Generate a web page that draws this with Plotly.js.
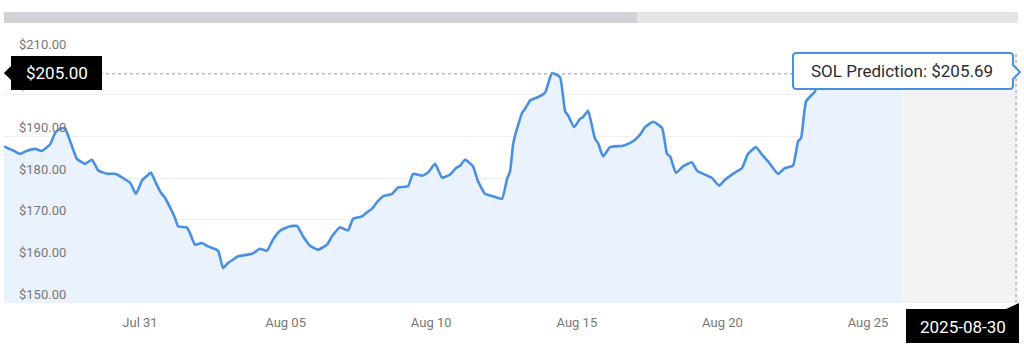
<!DOCTYPE html>
<html>
<head>
<meta charset="utf-8">
<script src="https://cdn.plot.ly/plotly-3.0.1.min.js"></script>
<style>
  html, body { margin: 0; padding: 0; background: #ffffff; }
  #chart { width: 1024px; height: 353px; }
</style>
</head>
<body>
<div id="chart"></div>
<script>
// ---- data ----
const dates = [
  "2025-07-26 08:00","2025-07-26 17:00","2025-07-26 21:00","2025-07-27 03:00","2025-07-27 09:30",
  "2025-07-27 15:00","2025-07-27 22:00","2025-07-28 02:00","2025-07-28 06:00","2025-07-28 10:00",
  "2025-07-28 15:00","2025-07-28 20:00","2025-07-29 02:40","2025-07-29 08:30","2025-07-29 13:30",
  "2025-07-29 21:00","2025-07-30 03:30","2025-07-30 10:00","2025-07-30 16:00","2025-07-30 20:40",
  "2025-07-31 01:40","2025-07-31 06:00","2025-07-31 09:00","2025-07-31 12:30","2025-07-31 16:30",
  "2025-07-31 20:40","2025-08-01 00:40","2025-08-01 04:50","2025-08-01 07:20","2025-08-01 14:40",
  "2025-08-01 17:10","2025-08-01 21:20","2025-08-02 03:00","2025-08-02 08:00","2025-08-02 16:20",
  "2025-08-02 20:25","2025-08-03 00:30","2025-08-03 04:40","2025-08-03 08:50","2025-08-03 20:20",
  "2025-08-04 02:55","2025-08-04 08:40","2025-08-04 13:35","2025-08-04 19:25","2025-08-05 03:35",
  "2025-08-05 09:25","2025-08-05 14:20","2025-08-05 20:05","2025-08-06 02:40","2025-08-06 10:05",
  "2025-08-06 14:15","2025-08-06 20:50","2025-08-07 03:25","2025-08-07 07:35","2025-08-07 15:00",
  "2025-08-07 19:05","2025-08-07 23:10","2025-08-08 03:20","2025-08-08 08:15","2025-08-08 15:40",
  "2025-08-08 20:40","2025-08-09 04:50","2025-08-09 09:00","2025-08-09 16:25","2025-08-09 21:20",
  "2025-08-10 03:10","2025-08-10 08:55","2025-08-10 15:30","2025-08-10 20:25","2025-08-10 23:45",
  "2025-08-11 03:50","2025-08-11 10:25","2025-08-11 14:35","2025-08-11 20:20","2025-08-12 02:55",
  "2025-08-12 10:20","2025-08-12 14:30","2025-08-12 17:00","2025-08-12 19:25","2025-08-12 21:05",
  "2025-08-13 02:50","2025-08-13 05:20","2025-08-13 09:25","2025-08-13 16:00","2025-08-13 21:50",
  "2025-08-14 03:35","2025-08-14 10:10","2025-08-14 14:20","2025-08-14 16:50","2025-08-14 21:45",
  "2025-08-15 02:40","2025-08-15 05:05","2025-08-15 09:15","2025-08-15 15:00","2025-08-15 17:30",
  "2025-08-15 21:35","2025-08-16 03:25","2025-08-16 14:05","2025-08-16 18:15","2025-08-17 00:00",
  "2025-08-17 04:05","2025-08-17 08:15","2025-08-17 14:50","2025-08-17 22:15","2025-08-18 02:20",
  "2025-08-18 04:50","2025-08-18 09:45","2025-08-18 15:30","2025-08-18 22:55","2025-08-19 03:05",
  "2025-08-19 09:40","2025-08-19 15:25","2025-08-19 21:10","2025-08-20 02:10","2025-08-20 08:45",
  "2025-08-20 16:10","2025-08-20 21:05","2025-08-21 03:40","2025-08-21 08:40","2025-08-21 13:35",
  "2025-08-21 21:50","2025-08-22 03:35","2025-08-22 10:10","2025-08-22 14:20","2025-08-22 16:50",
  "2025-08-22 20:55","2025-08-23 04:20","2025-08-23 06:50","2025-08-23 10:05","2025-08-23 20:00",
  "2025-08-24 08:00","2025-08-24 20:00","2025-08-25 08:00","2025-08-25 20:00","2025-08-26 04:00"
];
const prices = [
  187.6,186.4,185.8,186.55,187.0,
  186.5,188.1,190.8,191.8,192.0,
  188.4,184.6,183.4,184.4,181.8,
  181.0,181.0,180.0,178.8,176.2,
  179.4,180.55,181.3,179.2,176.8,
  175.2,173.0,170.4,168.4,168.1,
  166.8,164.0,164.4,163.6,162.55,
  158.4,159.6,160.4,161.2,161.8,
  163.0,162.55,165.2,167.35,168.4,
  168.5,166.0,163.75,162.8,164.0,
  166.0,168.2,167.4,170.2,170.8,
  171.8,172.6,174.2,175.6,176.2,
  177.7,178.0,181.0,180.55,181.3,
  183.4,180.1,180.8,182.4,182.95,
  184.4,182.8,179.2,176.2,175.6,
  175.0,179.8,181.6,188.0,190.2,
  195.6,196.6,198.6,199.4,200.5,
  205.2,204.2,196.0,195.0,192.2,
  194.2,194.6,196.15,189.4,188.4,
  185.2,187.4,187.75,188.2,189.2,
  190.4,192.2,193.5,192.0,185.8,
  185.2,181.2,182.8,183.75,181.75,
  180.8,180.0,178.15,179.6,181.0,
  182.4,185.8,187.4,185.6,184.0,
  181.0,182.4,182.95,188.8,189.6,
  198.4,200.8,203.6,207.2,206.4,
  207.5,206.0,206.9,205.4,205.69
];
const yTickVals = [150, 160, 170, 180, 190, 200, 210];
const yTickText = yTickVals.map(v => '$' + v.toFixed(2));
const xRange = ["2025-07-26 07:55", "2025-08-30 03:35"];
const xTick0 = "2025-07-31";
const crosshairPrice = 205.00;
const crosshairLabel = "$205.00";
const predictionLabel = "SOL Prediction: $205.69";
const dateLabel = "2025-08-30";

// ---- layout geometry (pixels) ----
const L = 4, R = 1018, T = 53, B = 303;
const W = R - L, H = B - T;
const px = v => (v - L) / W;
const py = v => (B - v) / H;
const path = pts => pts.map((p, i) => (i ? 'L' : 'M') + px(p[0]).toFixed(5) + ',' + py(p[1]).toFixed(5)).join(' ') + ' Z';

const blue = 'rgb(74,144,226)';

const trace = {
  x: dates, y: prices,
  type: 'scatter', mode: 'lines',
  line: { color: blue, width: 2.6, shape: 'spline', smoothing: 0.4 },
  fill: 'tozeroy', fillcolor: 'rgba(234,242,253,1)',
  hoverinfo: 'skip'
};

const tooltipPath = (() => {
  const x0 = 793, x1 = 1013, y0 = 53, y1 = 89, r = 3;
  const pts = [];
  const arc = (cx, cy, a0, a1) => { for (let k = 0; k <= 4; k++) { const a = a0 + (a1 - a0) * k / 4; pts.push([cx + r * Math.cos(a), cy + r * Math.sin(a)]); } };
  arc(x0 + r, y0 + r, Math.PI, 1.5 * Math.PI);
  arc(x1 - r, y0 + r, 1.5 * Math.PI, 2 * Math.PI);
  pts.push([x1, 65]); pts.push([1020, 72]); pts.push([x1, 79]);
  arc(x1 - r, y1 - r, 0, 0.5 * Math.PI);
  arc(x0 + r, y1 - r, 0.5 * Math.PI, Math.PI);
  return path(pts);
})();

const shapes = [
  // top scroll bar
  { type: 'rect', xref: 'paper', yref: 'paper', x0: px(4), x1: px(637), y0: py(23), y1: py(12), fillcolor: '#d1d3d8', line: { width: 0 }, layer: 'above' },
  { type: 'rect', xref: 'paper', yref: 'paper', x0: px(637), x1: px(1018), y0: py(23), y1: py(12), fillcolor: '#e4e5e9', line: { width: 0 }, layer: 'above' },
  // forecast region
  { type: 'rect', xref: 'x', yref: 'paper', x0: dates[dates.length - 1], x1: xRange[1], y0: 0, y1: 1, fillcolor: '#f3f3f3', line: { width: 0 }, layer: 'below' },
  // crosshair lines
  { type: 'line', xref: 'paper', yref: 'y', x0: 0, x1: 1, y0: crosshairPrice, y1: crosshairPrice, line: { color: '#9a9a9a', width: 1, dash: '3px,3px' }, layer: 'above' },
  { type: 'line', xref: 'paper', yref: 'paper', x0: px(1016), x1: px(1016), y0: 0, y1: 1, line: { color: '#9a9a9a', width: 1, dash: '3px,3px' }, layer: 'above' },
  // y crosshair label
  { type: 'path', xref: 'paper', yref: 'paper', path: path([[11, 56], [102, 56], [102, 90], [11, 90], [11, 80], [4, 73], [11, 66]]), fillcolor: '#000000', line: { width: 0 }, layer: 'above' },
  // tooltip
  { type: 'path', xref: 'paper', yref: 'paper', path: tooltipPath, fillcolor: '#ffffff', line: { color: blue, width: 2 }, layer: 'above' },
  // x crosshair label
  { type: 'path', xref: 'paper', yref: 'paper', path: path([[906, 309], [1006, 309], [1019, 303], [1019, 343], [906, 343]]), fillcolor: '#000000', line: { width: 0 }, layer: 'above' }
];

const annotations = [
  { xref: 'paper', yref: 'paper', x: px(56.5), y: py(73), xanchor: 'center', yanchor: 'middle', showarrow: false,
    text: crosshairLabel, font: { family: 'Roboto, sans-serif', size: 17, color: '#ffffff' } },
  { xref: 'paper', yref: 'paper', x: px(902), y: py(71.5), xanchor: 'center', yanchor: 'middle', showarrow: false,
    text: predictionLabel, font: { family: 'Roboto, sans-serif', size: 17, color: '#2b2b2b' } },
  { xref: 'paper', yref: 'paper', x: px(962.5), y: py(326.5), xanchor: 'center', yanchor: 'middle', showarrow: false,
    text: dateLabel, font: { family: 'Roboto, sans-serif', size: 17, color: '#ffffff' } }
];

const layout = {
  width: 1024, height: 353,
  margin: { l: L, r: 1024 - R, t: T, b: 353 - B, pad: 0 },
  paper_bgcolor: '#ffffff', plot_bgcolor: '#ffffff',
  showlegend: false,
  hovermode: false,
  font: { family: 'Roboto, sans-serif', color: '#777777', size: 13 },
  xaxis: {
    type: 'date', range: xRange,
    tick0: xTick0, dtick: 5 * 86400000, tickformat: '%b %d',
    showgrid: false, zeroline: false, showline: false, ticks: '',
    ticklabelstandoff: 10,
    tickfont: { family: 'Roboto, sans-serif', size: 13, color: '#777777' }
  },
  yaxis: {
    range: [150, 210], tickmode: 'array', tickvals: yTickVals, ticktext: yTickText,
    ticklabelposition: 'inside', ticklabelshift: -9, ticklabelstandoff: 12,
    ticklabeloverflow: 'allow',
    showgrid: true, gridcolor: '#efefef', gridwidth: 1,
    zeroline: false, showline: false, ticks: '',
    tickfont: { family: 'Roboto, sans-serif', size: 13, color: '#777777' }
  },
  shapes, annotations
};

Plotly.newPlot('chart', [trace], layout, { staticPlot: true, displayModeBar: false });
</script>
</body>
</html>
